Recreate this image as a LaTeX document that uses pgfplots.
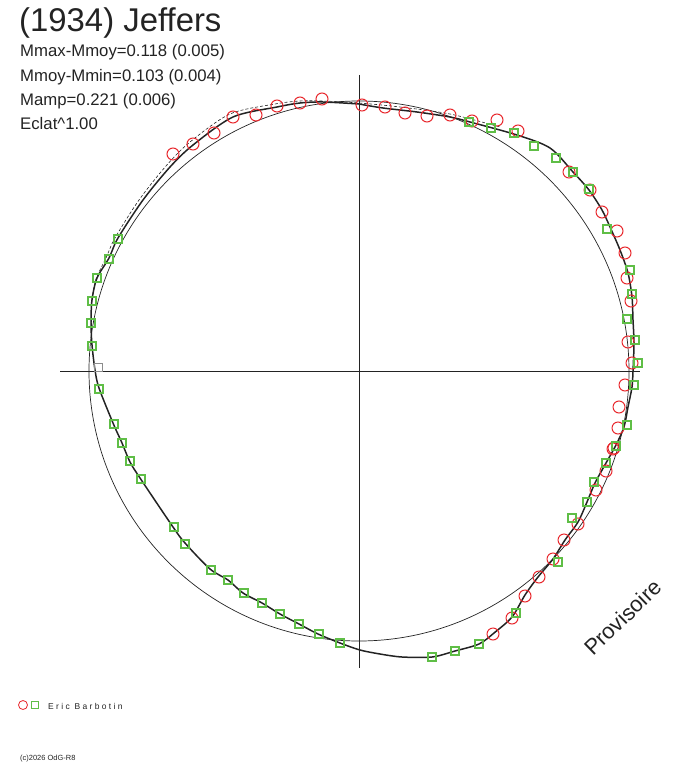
\documentclass[border=0pt]{standalone}
\usepackage{pgfplots}
\pgfplotsset{compat=1.18}
\usepackage{fontspec}
\setmainfont{Liberation Sans}
\definecolor{ptred}{RGB}{232,40,45}
\definecolor{ptgreen}{RGB}{95,190,70}
\definecolor{ink}{RGB}{35,35,35}
\begin{document}
\begin{tikzpicture}
\begin{axis}[
  width=688bp, height=768bp, scale only axis,
  xmin=0, xmax=688, ymin=0, ymax=768, y dir=reverse,
  hide axis, clip=false,
]
\path (axis cs:0,0) rectangle (axis cs:688,768);
% axes
\draw[ink, line width=0.9pt] (axis cs:60,371) -- (axis cs:640,371);
\draw[ink, line width=0.9pt] (axis cs:359,75) -- (axis cs:359,668);
% reference circle
\draw[ink, line width=0.7pt] (axis cs:359,371) circle[radius=270];
% light curve
\addplot[ink, line width=1.5pt, smooth, tension=0.5] coordinates {
(359,104)(383,108)(417,112)(450,117)(470,122)(517,135)(550,148)(573,172)(589,190)(602,210)(610,227)(620,250)(628,273)(632,297)(633,320)(634,343)(633,371)(632,387)(628,407)(624,427)(616,445)(606,463)(595,483)(587,502)(578,522)(565,540)(553,559)(538,577)(525,595)(512,617)(494,633)(479,644)(455,651)(432,657)(402,657)(380,654)(360,650)(340,643)(318,634)(299,624)(280,614)(262,603)(243,593)(228,580)(210,569)(185,543)(173,527)(140,478)(130,462)(122,443)(113,423)(99,388)(95,370)(92,345)(91,323)(92,300)(97,278)(109,258)(118,238)(143,200)(170,167)(193,145)(233,117)(277,107)(300,103)(323,102)(359,104)
};
\addplot[ink, line width=0.6pt, densely dashed, smooth, tension=0.5] coordinates {
(92,300)(96,279)(106,258)(115,238)(139,200)(166,166)(190,142)(230,114)(275,104)(300,101)(323,101)(359,103)(400,107)(450,114)(500,127)
};
% red circles
\addplot[only marks, mark=o, mark size=6bp, mark options={ptred, line width=1pt}] coordinates {
(173,154)(193,144)(214,133)(233,117)(256,115)(277,106)(300,103)(322,99)(362,105)(385,107)(405,113)(427,116)(450,115)(472,121)(497,120)(518,131)
(569,172)(590,190)(602,212)(617,231)(625,253)(627,278)(631,301)(628,342)(632,363)(625,385)(619,407)(618,428)(614,448)
(613,449)(606,471)(596,490)(578,524)(564,540)(553,559)(539,577)(525,596)(512,618)(493,634)
};
% green squares
\addplot[only marks, mark=square, mark size=4bp, mark options={ptgreen, line width=1.1pt}] coordinates {
(469,122)(491,128)(514,133)(534,146)(556,158)
(573,172)(589,189)(607,229)(630,270)(632,294)(627,319)(635,340)(638,363)(634,385)(627,425)(616,446)
(606,463)(594,482)(587,502)(572,518)(558,562)(516,613)(479,644)(455,651)(432,657)
(141,479)(174,527)(185,544)(211,570)(228,580)(244,593)(262,603)(280,614)(299,624)(319,634)(340,643)
(118,239)(109,259)(97,278)(92,301)(91,323)(92,346)(99,389)(114,424)(122,443)(130,461)
};
\addplot[only marks, mark=square, mark size=4bp, mark options={black!45, line width=0.9pt}] coordinates {(98,367)};
% legend marks
\addplot[only marks, mark=o, mark size=4.5bp, mark options={ptred, line width=0.8pt}] coordinates {(23,705)};
\addplot[only marks, mark=square, mark size=3.5bp, mark options={ptgreen, line width=0.8pt}] coordinates {(35,705)};
% texts
\node[anchor=base west, inner sep=0, text=ink, font=\fontsize{33}{38}\selectfont] at (axis cs:19,32) {(1934) Jeffers};
\node[anchor=base west, inner sep=0, text=ink, font=\fontsize{16.8}{20}\selectfont] at (axis cs:20,57) {Mmax-Mmoy=0.118 (0.005)};
\node[anchor=base west, inner sep=0, text=ink, font=\fontsize{16.8}{20}\selectfont] at (axis cs:20,82) {Mmoy-Mmin=0.103 (0.004)};
\node[anchor=base west, inner sep=0, text=ink, font=\fontsize{16.8}{20}\selectfont] at (axis cs:20,106) {Mamp=0.221 (0.006)};
\node[anchor=base west, inner sep=0, text=ink, font=\fontsize{16.8}{20}\selectfont] at (axis cs:20,130) {Eclat\^{}1.00};
\node[anchor=base west, inner sep=0, text=ink, font=\fontsize{8.5}{10}\selectfont] at (axis cs:48,709) {E r i c\ \ B a r b o t i n};
\node[anchor=base west, inner sep=0, text=ink, font=\fontsize{7.5}{9}\selectfont] at (axis cs:20,760) {(c)2026 OdG-R8};
\node[anchor=base west, inner sep=0, text=ink, rotate=44, font=\fontsize{22}{26}\selectfont] at (axis cs:593,657) {Provisoire};
\end{axis}
\end{tikzpicture}
\end{document}
